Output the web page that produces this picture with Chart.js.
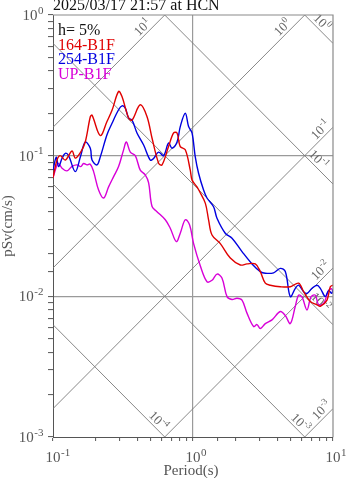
<!DOCTYPE html>
<html>
<head>
<meta charset="utf-8">
<script src="https://cdn.jsdelivr.net/npm/chart.js@4"></script>
<style>
html, body { margin: 0; padding: 0; background: #fff; }
canvas { display: block; }
</style>
</head>
<body>
<canvas id="psv" width="347" height="478"></canvas>
<script>
// labels
const titleText = '2025/03/17 21:57 at HCN'
const dampingText = 'h= 5%'
const seriesNames = ['164-B1F', '254-B1F', 'UP-B1F']
const seriesColors = ['#e00000', '#0000e0', '#d800d8']

// tick decades (exponents of 10)
const periodDecades = [-1, 0, 1]
const svDecades = [-3, -2, -1, 0]
// tripartite guide lines: acceleration (cm/s2) and displacement (cm) decades
const accDecades = [-3, -2, -1, 0, 1]
const dispDecades = [-4, -3, -2, -1, 0]

// spectra, period (s) and pSv (cm/s)
const redPeriod = [0.100, 0.1068, 0.1127, 0.1224, 0.1367, 0.1443, 0.1577, 0.170, 0.1847, 0.190, 0.2177, 0.243, 0.264, 0.294, 0.311, 0.347, 0.367, 0.420, 0.469, 0.510, 0.568, 0.601, 0.669, 0.727, 0.769, 0.811, 0.881, 0.956, 0.985, 1.068, 1.10, 1.224, 1.292, 1.367, 1.567, 1.847, 2.177, 2.43, 2.786, 3.025, 3.284, 3.566, 4.204, 4.955, 5.68, 6.166, 6.885, 7.69, 8.117, 9.06, 9.566, 10]
const redSv = [0.0695, 0.093, 0.100, 0.093, 0.108, 0.096, 0.106, 0.125, 0.189, 0.194, 0.139, 0.175, 0.21, 0.286, 0.263, 0.185, 0.179, 0.23, 0.19, 0.133, 0.0885, 0.086, 0.116, 0.145, 0.145, 0.116, 0.11, 0.079, 0.067, 0.060, 0.057, 0.046, 0.035, 0.0273, 0.0237, 0.0187, 0.0167, 0.017, 0.017, 0.015, 0.0124, 0.012, 0.0117, 0.0117, 0.0124, 0.0108, 0.0092, 0.0087, 0.0085, 0.0094, 0.0117, 0.012]

const bluePeriod = [0.100, 0.1056, 0.1096, 0.116, 0.1224, 0.1292, 0.1443, 0.1577, 0.170, 0.1847, 0.190, 0.2062, 0.2177, 0.243, 0.264, 0.294, 0.311, 0.3284, 0.347, 0.367, 0.398, 0.444, 0.4955, 0.523, 0.568, 0.6166, 0.669, 0.708, 0.769, 0.811, 0.881, 0.930, 0.984, 1.038, 1.096, 1.19, 1.259, 1.403, 1.484, 1.70, 1.90, 2.239, 2.64, 3.025, 3.284, 3.765, 4.204, 4.563, 4.955, 5.38, 5.68, 6.166, 6.52, 7.08, 7.69, 8.117, 8.81, 9.30, 9.8, 10]
const blueSv = [0.079, 0.0975, 0.0836, 0.0956, 0.104, 0.100, 0.077, 0.100, 0.125, 0.113, 0.093, 0.086, 0.098, 0.141, 0.170, 0.212, 0.226, 0.218, 0.185, 0.179, 0.145, 0.119, 0.093, 0.0956, 0.106, 0.100, 0.123, 0.113, 0.125, 0.161, 0.20, 0.161, 0.145, 0.098, 0.075, 0.057, 0.050, 0.0433, 0.0359, 0.0281, 0.0259, 0.0208, 0.017, 0.015, 0.0146, 0.0147, 0.0158, 0.015, 0.00995, 0.0114, 0.012, 0.0108, 0.0105, 0.0114, 0.012, 0.0114, 0.00995, 0.011, 0.0105, 0.0112]

const upPeriod = [0.100, 0.1068, 0.1096, 0.116, 0.1259, 0.1367, 0.1484, 0.1577, 0.1655, 0.175, 0.1847, 0.195, 0.2117, 0.230, 0.2495, 0.271, 0.294, 0.3194, 0.334, 0.3566, 0.387, 0.420, 0.456, 0.482, 0.510, 0.553, 0.634, 0.688, 0.76, 0.811, 0.881, 0.946, 1.01, 1.127, 1.259, 1.367, 1.484, 1.61, 1.75, 1.90, 2.062, 2.239, 2.43, 2.71, 2.865, 3.025, 3.284, 3.667, 4.204, 4.563, 4.955, 5.38, 5.68, 6.006, 6.52, 6.965, 7.475, 7.89, 8.57, 9.30, 9.8, 10]
const upSv = [0.0695, 0.086, 0.088, 0.0815, 0.078, 0.084, 0.086, 0.0836, 0.088, 0.086, 0.087, 0.077, 0.057, 0.050, 0.060, 0.071, 0.0836, 0.110, 0.125, 0.106, 0.100, 0.079, 0.073, 0.064, 0.0435, 0.040, 0.035, 0.0305, 0.0245, 0.0281, 0.035, 0.0322, 0.0237, 0.0165, 0.0127, 0.0130, 0.0144, 0.0135, 0.00995, 0.0095, 0.0097, 0.0094, 0.0076, 0.0061, 0.0063, 0.0059, 0.0064, 0.0068, 0.0078, 0.0073, 0.0064, 0.0085, 0.0102, 0.0099, 0.008, 0.0099, 0.0102, 0.0087, 0.0089, 0.011, 0.0113, 0.0105]

// where along each guide line its label sits (period, s)
const accLabelAt = [8.96, 8.81, 8.81, 4.72, 0.472]
const dispLabelAt = [0.52, 5.38, 7.47, 7.23, 7.66]

const serif = "'Liberation Serif', 'DejaVu Serif', serif"
const TWO_PI = 2 * Math.PI
const tMin = Math.pow(10, periodDecades[0])
const tMax = Math.pow(10, periodDecades[periodDecades.length - 1])
const svMin = Math.pow(10, svDecades[0])
const svMax = Math.pow(10, svDecades[svDecades.length - 1])

function toPoints(periods, values) {
    return periods.map((t, i) => ({ x: t, y: values[i] }))
}

function innerDecade(v, lo, hi) {
    const l = Math.log10(v)
    return Math.abs(l - Math.round(l)) < 1e-6 && v > lo * 1.001 && v < hi * 0.999
}

// draws "10" with a raised exponent
function powText(ctx, exp, x, y, size, align) {
    const small = Math.round(size * 0.7)
    ctx.font = size + 'px ' + serif
    const wb = ctx.measureText('10').width
    ctx.font = small + 'px ' + serif
    const we = ctx.measureText(String(exp)).width
    let left = x - (wb + we) / 2
    if (align === 'base') left = x - wb / 2
    if (align === 'right') left = x - wb - we
    ctx.textAlign = 'left'
    ctx.font = size + 'px ' + serif
    ctx.fillText('10', left, y)
    ctx.font = small + 'px ' + serif
    ctx.fillText(String(exp), left + wb + 0.5, y - size * 0.42)
}

const tripartite = {
    id: 'tripartite',
    beforeDatasetsDraw(chart) {
        const { ctx, chartArea: a, scales: { x, y } } = chart
        const accSv = (e, t) => Math.pow(10, e) * t / TWO_PI
        const dispSv = (e, t) => TWO_PI * Math.pow(10, e) / t

        ctx.save()
        ctx.beginPath()
        ctx.rect(a.left, a.top, a.right - a.left, a.bottom - a.top)
        ctx.clip()
        ctx.strokeStyle = '#7a7a7a'
        ctx.lineWidth = 0.9
        const lines = accDecades.map(e => t => accSv(e, t)).concat(dispDecades.map(e => t => dispSv(e, t)))
        lines.forEach(f => {
            ctx.beginPath()
            ctx.moveTo(x.getPixelForValue(tMin), y.getPixelForValue(f(tMin)))
            ctx.lineTo(x.getPixelForValue(tMax), y.getPixelForValue(f(tMax)))
            ctx.stroke()
        })
        ctx.restore()

        ctx.save()
        ctx.fillStyle = '#666'
        ctx.textBaseline = 'alphabetic'
        const label = (f, e, t) => {
            const px = x.getPixelForValue(t)
            const py = y.getPixelForValue(f(t))
            const qx = x.getPixelForValue(t * 1.2)
            const qy = y.getPixelForValue(f(t * 1.2))
            ctx.save()
            ctx.translate(px, py)
            ctx.rotate(Math.atan2(qy - py, qx - px))
            powText(ctx, e, 0, -3, 13, 'center')
            ctx.restore()
        }
        accDecades.forEach((e, i) => label(t => accSv(e, t), e, accLabelAt[i]))
        dispDecades.forEach((e, i) => label(t => dispSv(e, t), e, dispLabelAt[i]))
        ctx.restore()
    },
    afterDraw(chart) {
        const { ctx, chartArea: a, scales: { x, y } } = chart
        ctx.save()
        // top and right frame
        ctx.strokeStyle = '#8a8a8a'
        ctx.lineWidth = 1.2
        ctx.beginPath()
        ctx.moveTo(a.left, a.top)
        ctx.lineTo(a.right, a.top)
        ctx.lineTo(a.right, a.bottom)
        ctx.stroke()

        // tick labels
        ctx.fillStyle = '#555'
        ctx.textBaseline = 'alphabetic'
        periodDecades.forEach(e => {
            powText(ctx, e, x.getPixelForValue(Math.pow(10, e)), a.bottom + 25, 15, 'base')
        })
        svDecades.forEach(e => {
            powText(ctx, e, a.left - 10, y.getPixelForValue(Math.pow(10, e)) + 5, 15, 'right')
        })

        // axis titles
        ctx.font = '15px ' + serif
        ctx.textAlign = 'center'
        ctx.fillText('Period(s)', (a.left + a.right) / 2 - 2, a.bottom + 38)
        ctx.save()
        ctx.translate(12, (a.top + a.bottom) / 2)
        ctx.rotate(-Math.PI / 2)
        ctx.fillText('pSv(cm/s)', 0, 0)
        ctx.restore()

        // title and in-plot legend
        ctx.textAlign = 'left'
        ctx.fillStyle = '#111'
        ctx.font = '16px ' + serif
        ctx.fillText(titleText, a.left, 10)
        ctx.fillText(dampingText, a.left + 5, a.top + 20)
        seriesNames.forEach((n, i) => {
            ctx.fillStyle = seriesColors[i]
            ctx.fillText(n, a.left + 5, a.top + 34.5 + i * 14.5)
        })
        ctx.restore()
    }
}

const gridColor = (lo, hi) => c => innerDecade(c.tick.value, lo, hi) ? '#9a9a9a' : 'rgba(0,0,0,0)'

new Chart(document.getElementById('psv'), {
    type: 'line',
    data: {
        datasets: [
            { label: seriesNames[0], data: toPoints(redPeriod, redSv), borderColor: seriesColors[0] },
            { label: seriesNames[1], data: toPoints(bluePeriod, blueSv), borderColor: seriesColors[1] },
            { label: seriesNames[2], data: toPoints(upPeriod, upSv), borderColor: seriesColors[2] }
        ]
    },
    options: {
        responsive: false,
        animation: false,
        layout: { padding: { top: 15, right: 14, left: 0, bottom: 0 } },
        elements: {
            point: { radius: 0 },
            line: { borderWidth: 1.4, tension: 0.35, fill: false }
        },
        plugins: { legend: { display: false }, tooltip: { enabled: false }, title: { display: false } },
        scales: {
            x: {
                type: 'logarithmic',
                min: tMin,
                max: tMax,
                afterFit: s => { s.height = 41 },
                border: { color: '#555', width: 1 },
                grid: { color: gridColor(tMin, tMax), lineWidth: 1.2, tickColor: '#555', tickWidth: 1, tickLength: 4 },
                ticks: { autoSkip: false, maxRotation: 0, callback: () => '', font: { size: 1 } }
            },
            y: {
                type: 'logarithmic',
                min: svMin,
                max: svMax,
                afterFit: s => { s.width = 53 },
                border: { color: '#555', width: 1 },
                grid: { color: gridColor(svMin, svMax), lineWidth: 1.2, tickColor: '#555', tickWidth: 1, tickLength: 5 },
                ticks: { autoSkip: false, callback: () => '', font: { size: 1 } }
            }
        }
    },
    plugins: [tripartite]
})
</script>
</body>
</html>
